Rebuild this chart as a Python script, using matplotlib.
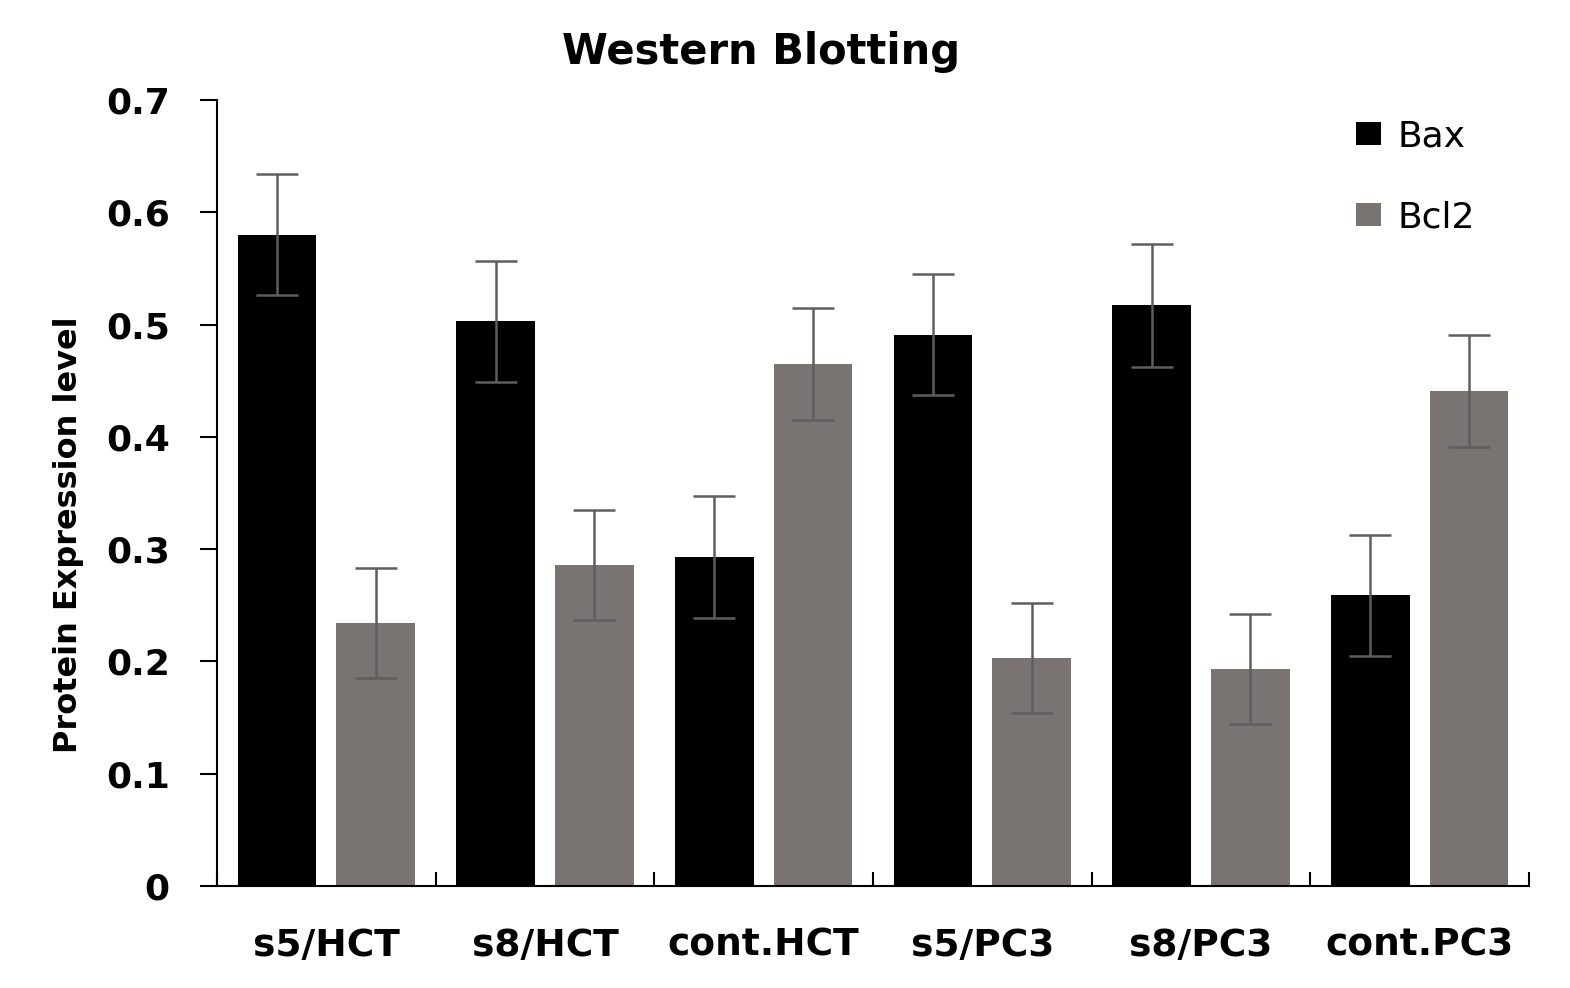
import numpy as np
import matplotlib
matplotlib.use('Agg')
import matplotlib.pyplot as plt

# Data
groups = ['s5/HCT', 's8/HCT', 'cont.HCT', 's5/PC3', 's8/PC3', 'cont.PC3']
bax = [0.580, 0.503, 0.293, 0.491, 0.517, 0.259]
bax_err = [0.054, 0.054, 0.054, 0.054, 0.055, 0.054]
bcl2 = [0.234, 0.286, 0.465, 0.203, 0.193, 0.441]
bcl2_err = [0.049, 0.049, 0.050, 0.049, 0.049, 0.050]

plt.rcParams['font.family'] = ['DejaVu Sans']

fig = plt.figure(figsize=(15.7, 9.88), dpi=100)
ax = fig.add_axes([0.1382, 0.1032, 0.8357, 0.7956])

x = np.arange(len(groups))
w = 0.36
off = 0.225
err_kw = dict(ecolor='#5e5e5e', elinewidth=1.8, capsize=15, capthick=1.8)

ax.bar(x - off, bax, w, color='black', label='Bax', yerr=bax_err, error_kw=err_kw)
ax.bar(x + off, bcl2, w, color='#797371', label='Bcl2', yerr=bcl2_err, error_kw=err_kw)

ax.set_xlim(-0.5, len(groups) - 0.5)
ax.set_ylim(0, 0.7)
ax.set_yticks(np.arange(0, 0.71, 0.1))
ax.set_yticklabels(['0'] + ['%.1f' % v for v in np.arange(0.1, 0.71, 0.1)],
                   fontsize=26, fontweight='bold')

# group boundaries as major ticks, names on minor ticks
ax.set_xticks(np.arange(-0.5, len(groups), 1.0))
ax.set_xticklabels([])
ax.set_xticks(x, minor=True)
ax.set_xticklabels(groups, minor=True, fontsize=27, fontweight='bold')
ax.tick_params(axis='x', which='major', direction='in', length=10, width=1.5)
ax.tick_params(axis='x', which='minor', length=0, pad=30)
ax.tick_params(axis='y', direction='out', length=12, width=1.5, pad=22)

for s in ['top', 'right']:
    ax.spines[s].set_visible(False)
for s in ['left', 'bottom']:
    ax.spines[s].set_linewidth(1.5)

ax.set_ylabel('Protein Expression level', fontsize=23, fontweight='bold')
ax.yaxis.set_label_coords(-0.101, 0.447)

fig.text(0.485, 0.947, 'Western Blotting', fontsize=30, fontweight='bold',
         ha='center', va='center')

leg = ax.legend(loc='upper left', bbox_to_anchor=(0.8544, 0.998), frameon=False,
                fontsize=26, handlelength=0.7, handleheight=0.6, borderpad=0,
                labelspacing=1.3, handletextpad=0.45)

fig.savefig('out.png', dpi=100)
